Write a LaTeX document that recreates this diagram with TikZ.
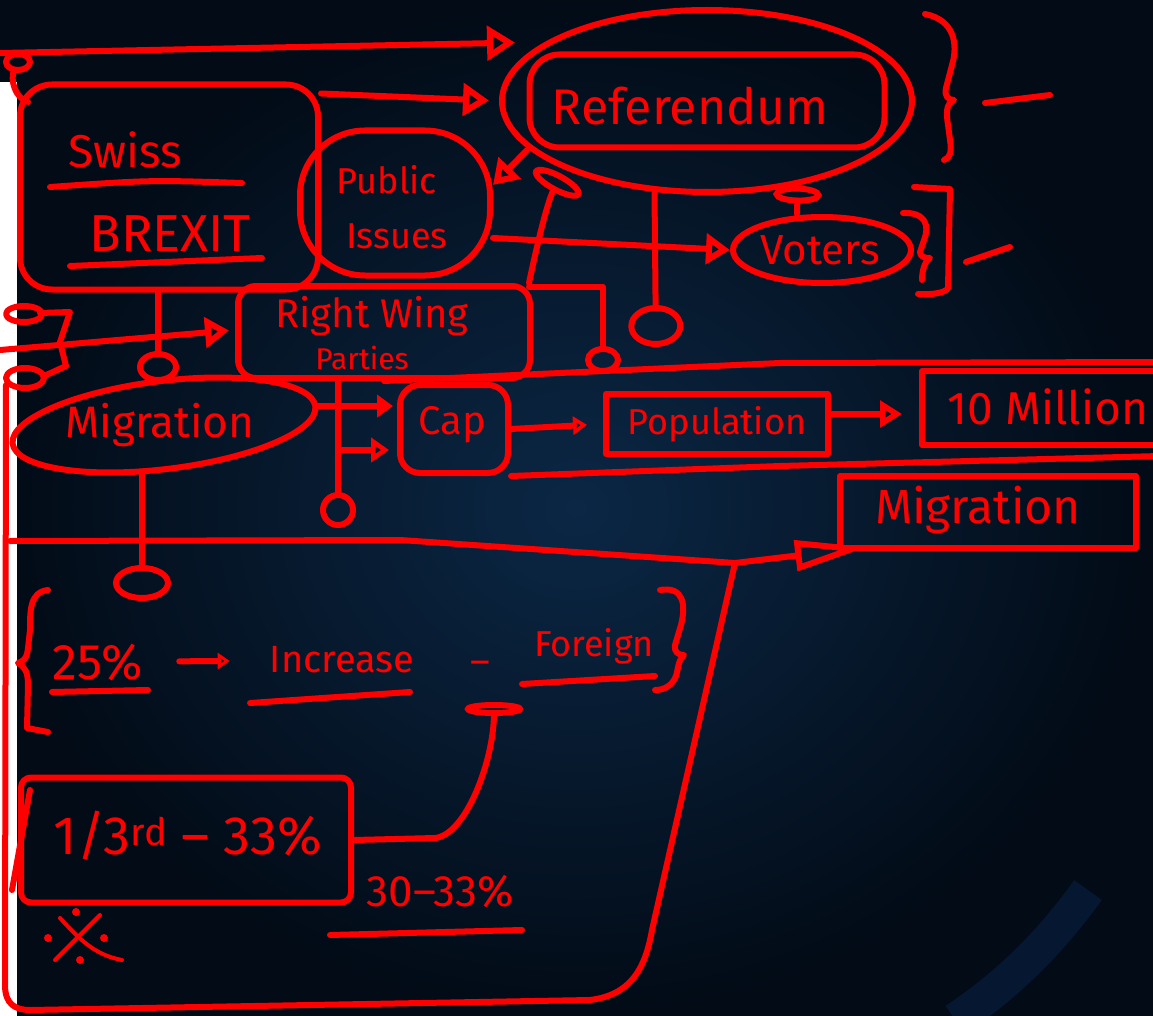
\documentclass[tikz,border=0pt]{standalone}
\usepackage{fontspec}
\setmainfont{Fira Sans}
\usetikzlibrary{arrows.meta,shapes.geometric,calc}
\definecolor{ink}{HTML}{FF0000}
\definecolor{bgc}{HTML}{0B2745}
\definecolor{bge}{HTML}{020B16}
\definecolor{bgarc}{HTML}{061731}
\begin{document}
\begin{tikzpicture}[x=1pt,y=-1pt,
  redline/.style={draw=ink, line width=6pt, line cap=round, line join=round},
  box/.style={redline, rectangle, inner sep=0pt},
  oval/.style={redline, ellipse, inner sep=0pt},
  lbl/.style={text=ink, inner sep=0pt, font=\fontsize{#1}{#1}\selectfont},
  tri/.style 2 args={-{Triangle[open,length=#1,width=#2]}},
  ftri/.style 2 args={-{Triangle[length=#1,width=#2]}},
  lol/.style 2 args={-{Ellipse[open,length=#1,width=#2]}}
]
\useasboundingbox (0,0) rectangle (1153,1016);
% background
\shade[inner color=bgc, outer color=bge] (0,0) rectangle (1153,1016);
\draw[line width=34pt, draw=bgarc] (1088,890) .. controls (1045,950) and (1000,990) .. (955,1020);
\fill[white] (0,82) rectangle (17,1016);

% ---------- nodes ----------
\node[box, rounded corners=32pt, minimum width=298pt, minimum height=205pt] (swiss) at (169,187) {};
\node[lbl=46] (tswiss) at (125,150) {Swiss};
\node[lbl=52] (tbrexit) at (170,234) {BREXIT};

\node[oval, minimum width=410pt, minimum height=182pt] (refell) at (707,101) {};
\node[box, rounded corners=30pt, minimum width=355pt, minimum height=93pt] (refbox) at (707,101) {};
\node[lbl=50] (tref) at (690,106) {Referendum};

\node[box, rounded corners=65pt, minimum width=190pt, minimum height=145pt] (pub) at (395,203) {};
\node[lbl=36] (tpub1) at (387,180) {Public};
\node[lbl=36] (tpub2) at (397,236) {Issues};

\node[oval, minimum width=178pt, minimum height=66pt] (voters) at (822,250) {};
\node[lbl=42] (tvot) at (820,250) {Voters};

\node[box, rounded corners=18pt, minimum width=292pt, minimum height=92pt] (rw) at (384,332) {};
\node[lbl=40] (trw1) at (372,316) {Right Wing};
\node[lbl=30] (trw2) at (362,358) {Parties};

\node[oval, rotate=7, minimum width=305pt, minimum height=88pt] (mig1) at (164,425) {};
\node[lbl=44] (tmig1) at (160,425) {Migration};

\node[box, rounded corners=20pt, minimum width=108pt, minimum height=88pt] (cap) at (454,429) {};
\node[lbl=40] (tcap) at (452,425) {Cap};

\node[box, minimum width=222pt, minimum height=60pt] (pop) at (717,424) {};
\node[lbl=36] (tpop) at (717,424) {Population};

\node[box, minimum width=250pt, minimum height=74pt] (ten) at (1047,408) {};
\node[lbl=46] (tten) at (1048,407) {10 Million};

\node[box, minimum width=296pt, minimum height=72pt] (mig2) at (988,512) {};
\node[lbl=48] (tmig2) at (978,510) {Migration};

\node[lbl=50] (t25) at (98,662) {25\%};
\node[lbl=38] (tinc) at (342,660) {Increase};
\node[lbl=38] (tdash) at (480,668) {–};
\node[lbl=36] (tfor) at (594,646) {Foreign};

\node[box, rounded corners=10pt, minimum width=330pt, minimum height=125pt] (third) at (186,840) {};
\node[lbl=54] (tthird) at (188,836) {1/3\textsuperscript{rd} – 33\%};
\node[lbl=44] (t30) at (440,892) {30–33\%};

% ---------- coordinates ----------
\coordinate (tl) at (0,53);
\coordinate (lr) at (0,350);
\coordinate (c1) at (656,347);
\coordinate (c2) at (562,174);
\coordinate (c3) at (603,374);
\coordinate (c4) at (158,383);
\coordinate (c5) at (338,528);
\coordinate (j1) at (338,450);
\coordinate (c6) at (142,601);
\coordinate (jn) at (735,563);
\coordinate (c7) at (494,702);
\coordinate (pe) at ([yshift=10pt]pop.east);

% ---------- connectors ----------
\draw[redline, tri={28pt}{34pt}, shorten >=30pt] (tl) -- (refell.160);
\draw[redline, tri={26pt}{32pt}, shorten >=10pt] ([yshift=-12pt]swiss.north east) -- (refell.west);
\draw[redline, tri={24pt}{30pt}] (refbox.south west) -- ([yshift=18pt]pub.east);
\draw[redline, tri={24pt}{30pt}] ([yshift=-35pt]pub.east) -- (voters.west);
\draw[redline, lol={18pt}{48pt}] ([xshift=-25pt]voters.north) -- (refell.-43);
\draw[redline, lol={42pt}{55pt}] (refell.-120) -- (c1);
\draw[redline, lol={20pt}{54pt}] ([xshift=-4pt]rw.north east) .. controls (538,240) and (548,200) .. (c2);
\draw[redline, lol={28pt}{36pt}] ([xshift=-4pt,yshift=-4pt]rw.north east) -| (c3);
\draw[redline, lol={32pt}{42pt}] ([xshift=-11pt]swiss.south) -- (c4);
\draw[redline, tri={24pt}{30pt}, shorten >=6pt] (lr) -- ([yshift=2pt]rw.west);
\draw[redline, ftri={16pt}{22pt}, shorten >=4pt] (mig1.east) -- (cap.west |- mig1.east);
\draw[redline, lol={36pt}{36pt}] (rw.south -| c5) -- (c5);
\draw[redline, tri={18pt}{24pt}, shorten >=8pt] (j1) -- (cap.west |- j1);
\draw[redline, lol={36pt}{58pt}] (mig1.south -| c6) -- (c6);
\draw[redline, tri={14pt}{18pt}, shorten >=16pt] (cap.east) -- (pop.west);
\draw[redline, tri={22pt}{26pt}, shorten >=17pt] (pe) -- (ten.west |- pe);
\draw[redline, tri={72pt}{30pt}] (jn) -- ([xshift=30pt,yshift=4pt]mig2.south west);
\draw[redline, tri={12pt}{16pt}, shorten <=36pt, shorten >=40pt] (t25) -- (tinc);
\draw[redline, lol={14pt}{58pt}] (third.east) -- (435,838) .. controls (466,835) and (494,760) .. (c7);

% ---------- band lines and frame ----------
\draw[redline] (rw.south) -- (780,363) -- (1160,362);
\draw[redline] (cap.south east) -- (780,466) -- (1160,456);
\draw[redline] (10,541) -- (400,540) -- (jn);
\draw[redline] (6,385) -- (5,985) .. controls (5,1004) and (15,1010) .. (30,1010)
  -- (590,1000) .. controls (630,995) and (645,970) .. (652,930) -- (jn);

% ---------- underlines ----------
\draw[redline] (50,187) .. controls (150,180) .. (242,183);
\draw[redline] (70,266) -- (262,258);
\draw[redline] (52,692) -- (148,690);
\draw[redline] (250,703) -- (410,692);
\draw[redline] (522,684) -- (655,676);
\draw[redline] (330,935) -- (522,930);

% ---------- braces and marks ----------
\draw[redline] (925,14) .. controls (955,20) and (958,45) .. (952,65) -- (946,88)
  .. controls (944,96) and (948,100) .. (954,100) .. controls (946,104) and (946,112) .. (948,125)
  -- (950,140) .. controls (952,152) and (950,158) .. (944,160);
\draw[redline] (985,103) -- (1050,95);
\draw[redline] (903,213) .. controls (925,212) and (930,225) .. (924,240) -- (920,252)
  .. controls (920,257) and (925,258) .. (930,258) .. controls (924,262) and (922,272) .. (922,280);
\draw[redline] (914,187) -- (950,189) -- (948,288) .. controls (946,293) and (930,295) .. (918,294);
\draw[redline] (966,262) -- (1010,247);
\draw[redline] (28,102) .. controls (15,98) and (10,80) .. (14,70);
\draw[redline] (18,62) ellipse (12 and 8);
\draw[redline] (24,314) ellipse (18 and 8);
\draw[redline] (40,313) -- (70,312) -- (60,342) -- (66,366) -- (44,376);
\draw[redline] (25,378) ellipse (19 and 10);
\draw[redline] (48,590) .. controls (30,592) and (30,610) .. (30,630) -- (28,648)
  .. controls (27,658) and (24,661) .. (18,663) .. controls (25,667) and (28,672) .. (28,685)
  -- (27,728) -- (48,732);
\draw[redline] (660,590) .. controls (684,586) and (686,605) .. (681,625) -- (675,645)
  .. controls (674,652) and (678,655) .. (684,655) .. controls (678,660) and (678,670) .. (676,676)
  .. controls (672,686) and (664,690) .. (655,690);
\draw[redline] (30,790) -- (12,890);
\draw[redline, line width=4pt] (55,960) -- (100,915);
\draw[redline, line width=4pt] (60,918) .. controls (80,940) and (95,955) .. (122,960);
\fill[ink] (76,912) circle (4) (48,938) circle (4) (104,938) circle (4) (80,960) circle (4);
\end{tikzpicture}
\end{document}
